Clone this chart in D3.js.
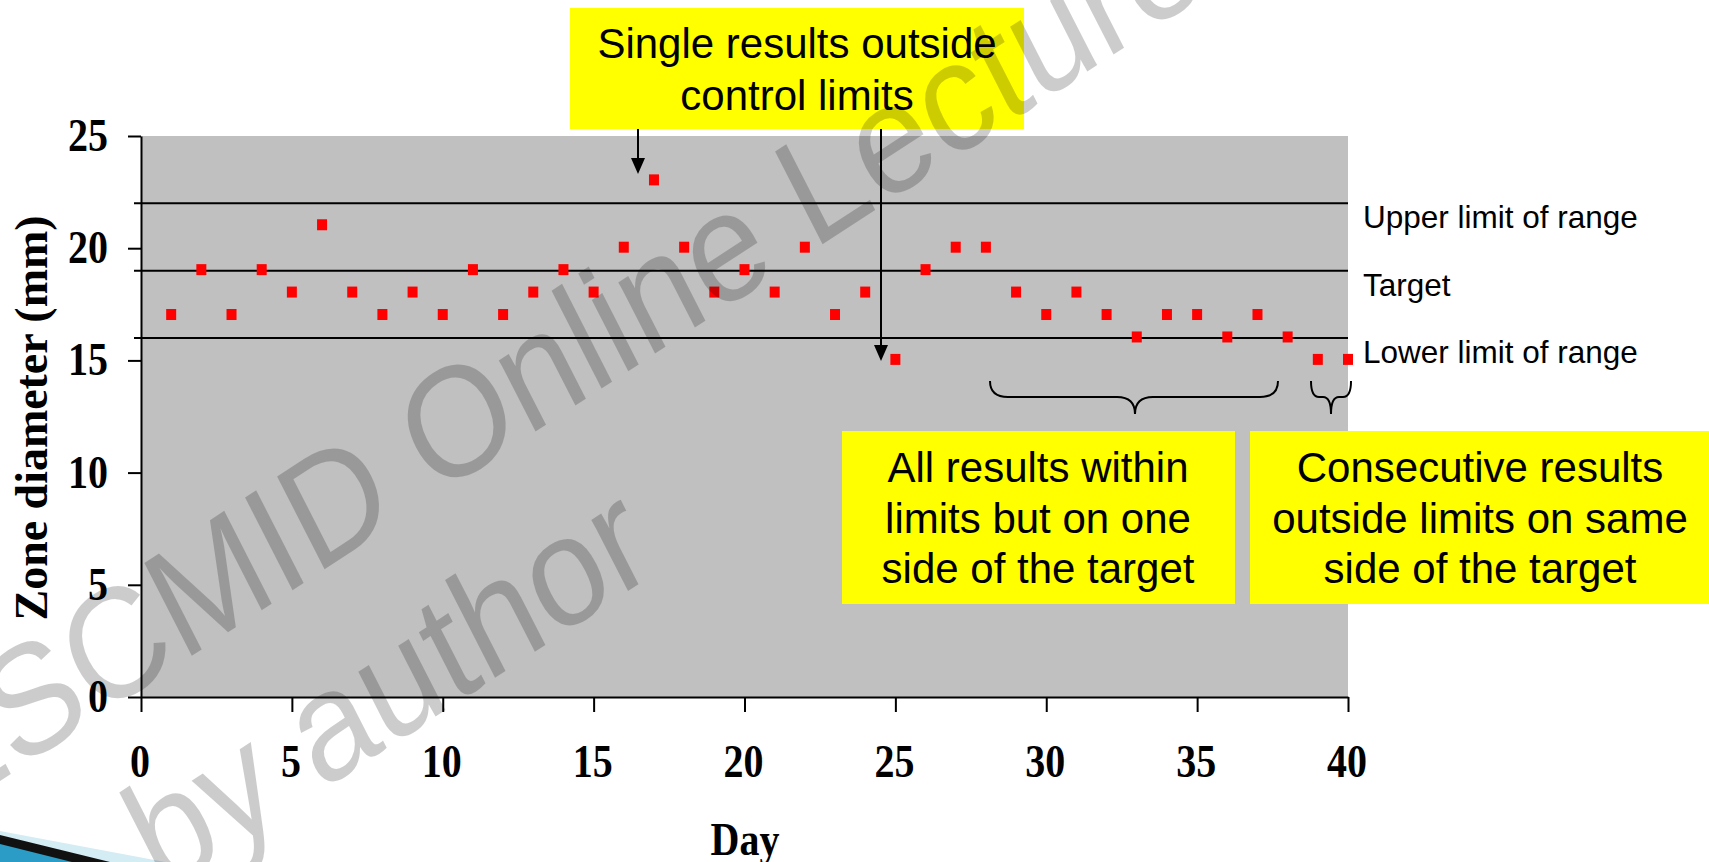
<!DOCTYPE html>
<html>
<head>
<meta charset="utf-8">
<script src="https://cdn.jsdelivr.net/npm/d3@7"></script>
<style>
  html, body { margin: 0; padding: 0; background: #ffffff; overflow: hidden; }
  svg { display: block; }
</style>
</head>
<body>
<svg id="chart" width="1709" height="862"></svg>
<script>
// ---- data ----
const days = [1,2,3,4,5,6,7,8,9,10,11,12,13,14,15,16,17,18,19,20,
              21,22,23,24,25,26,27,28,29,30,31,32,33,34,35,36,37,38,39,40];
const zoneDiameter = [17,19,17,19,18,21,18,17,18,17,19,17,18,19,18,20,23,20,18,19,
                      18,20,17,18,15,19,20,20,18,17,18,17,16,17,17,16,17,16,15,15];
const xTicks = [0,5,10,15,20,25,30,35,40];
const yTicks = [0,5,10,15,20,25];
const refValues = [22,19,16];
const refLabels = ["Upper limit of range","Target","Lower limit of range"];
const boxTop = ["Single results outside","control limits"];
const boxMid = ["All results within","limits but on one","side of the target"];
const boxRight = ["Consecutive results","outside limits on same","side of the target"];
const xLabel = "Day";
const yLabel = "Zone diameter (mm)";

// ---- layout ----
const svg = d3.select("#chart");
const x = d3.scaleLinear().domain([0,40]).range([141,1348]);
const y = d3.scaleLinear().domain([0,25]).range([697,136]);
const serif = "'Liberation Serif','Times New Roman',serif";
const sans = "'Liberation Sans',Arial,sans-serif";

// plot background
svg.append("rect")
  .attr("x", x(0)).attr("y", y(25))
  .attr("width", x(40) - x(0)).attr("height", y(0) - y(25))
  .attr("fill", "#c0c0c0");

// reference lines
svg.append("g").selectAll("line").data(refValues).join("line")
  .attr("x1", x(0) - 7).attr("x2", x(40))
  .attr("y1", d => y(d)).attr("y2", d => y(d))
  .attr("stroke", "#000").attr("stroke-width", 2);

// reference labels
svg.append("g").selectAll("text").data(refValues).join("text")
  .attr("x", 1363).attr("y", d => y(d) + 25)
  .attr("font-family", sans).attr("font-size", 31.5).attr("fill", "#000")
  .text((d,i) => refLabels[i]);

// axes
const yAxis = svg.append("g").attr("transform", `translate(${x(0)},0)`)
  .call(d3.axisLeft(y).tickValues(yTicks).tickSize(13).tickSizeOuter(0).tickFormat(""));
const xAxis = svg.append("g").attr("transform", `translate(0,${y(0)})`)
  .call(d3.axisBottom(x).tickValues(xTicks).tickSize(15).tickSizeOuter(0).tickFormat(""));
[yAxis, xAxis].forEach(a => {
  a.selectAll("path,line").attr("stroke", "#000").attr("stroke-width", 2);
});

// tick labels (bold serif, slightly tall)
svg.append("g").selectAll("text").data(yTicks).join("text")
  .attr("transform", d => `translate(108,${y(d) + 15}) scale(1,1.15)`)
  .attr("text-anchor", "end")
  .attr("font-family", serif).attr("font-weight", "bold").attr("font-size", 40)
  .text(d => d);
svg.append("g").selectAll("text").data(xTicks).join("text")
  .attr("transform", d => `translate(${x(d) - 1},777) scale(1,1.15)`)
  .attr("text-anchor", "middle")
  .attr("font-family", serif).attr("font-weight", "bold").attr("font-size", 40)
  .text(d => d);

// axis titles
svg.append("text")
  .attr("transform", `translate(745,855) scale(1,1.15)`)
  .attr("text-anchor", "middle")
  .attr("font-family", serif).attr("font-weight", "bold").attr("font-size", 40)
  .text(xLabel);
svg.append("text")
  .attr("transform", `translate(47,418) rotate(-90)`)
  .attr("text-anchor", "middle")
  .attr("font-family", serif).attr("font-weight", "bold").attr("font-size", 46)
  .attr("textLength", 405).attr("lengthAdjust", "spacingAndGlyphs")
  .text(yLabel);

// data markers
svg.append("g").selectAll("rect").data(days).join("rect")
  .attr("x", d => x(d) - 5)
  .attr("y", (d,i) => y(zoneDiameter[i]) - 6.5)
  .attr("width", 10).attr("height", 11)
  .attr("fill", "#ff0000");

// yellow annotation boxes
function box(x0, y0, w, h, lines, cx, baselines) {
  svg.append("rect").attr("x", x0).attr("y", y0).attr("width", w).attr("height", h)
    .attr("fill", "#ffff00");
  svg.append("g").selectAll("text").data(lines).join("text")
    .attr("x", cx).attr("y", (d,i) => baselines[i])
    .attr("text-anchor", "middle")
    .attr("font-family", sans).attr("font-size", 42).attr("fill", "#000")
    .text(d => d);
}
box(570, 8, 454, 121, boxTop, 797, [58, 110]);
box(842, 431, 393, 173, boxMid, 1038, [482, 533, 583]);
box(1250, 431, 459, 173, boxRight, 1480, [482, 533, 583]);

// arrows
function arrow(ax, y0, y1) {
  svg.append("line").attr("x1", ax).attr("x2", ax).attr("y1", y0).attr("y2", y1 - 10)
    .attr("stroke", "#000").attr("stroke-width", 2);
  svg.append("path")
    .attr("d", `M${ax - 7},${y1 - 16} L${ax + 7},${y1 - 16} L${ax},${y1} Z`)
    .attr("fill", "#000");
}
arrow(638, 129, 174);
arrow(881, 129, 361);

// braces
function brace(x1, x2, cx, top, mid, tip, r) {
  const p = `M${x1},${top} Q${x1},${mid} ${x1 + r},${mid} L${cx - r},${mid} Q${cx},${mid} ${cx},${tip}` +
            ` Q${cx},${mid} ${cx + r},${mid} L${x2 - r},${mid} Q${x2},${mid} ${x2},${top}`;
  svg.append("path").attr("d", p).attr("fill", "none").attr("stroke", "#000").attr("stroke-width", 2);
}
brace(990, 1278, 1135, 381, 397, 414, 18);
brace(1311, 1351, 1331, 381, 397, 414, 8);

// bottom-left decoration
svg.append("path").attr("d", "M0,831 L165,862 L0,862 Z").attr("fill", "#d4ecf4");
svg.append("path").attr("d", "M0,835 L110,862 L0,862 Z").attr("fill", "#111");
svg.append("path").attr("d", "M0,844 L72,862 L0,862 Z").attr("fill", "#2a9cc6");

// watermark
const wm = svg.append("g").attr("transform", "scale(1,1.13)")
  .attr("font-family", sans).attr("font-size", 138)
  .attr("fill", "#000").attr("fill-opacity", 0.2);
wm.append("text").attr("transform", "translate(-63.8,728) rotate(-30)")
  .text("ESCMID Online Lecture Library");
wm.append("text").attr("transform", "translate(161.2,792.5) rotate(-30)")
  .text("by author");
</script>
</body>
</html>
